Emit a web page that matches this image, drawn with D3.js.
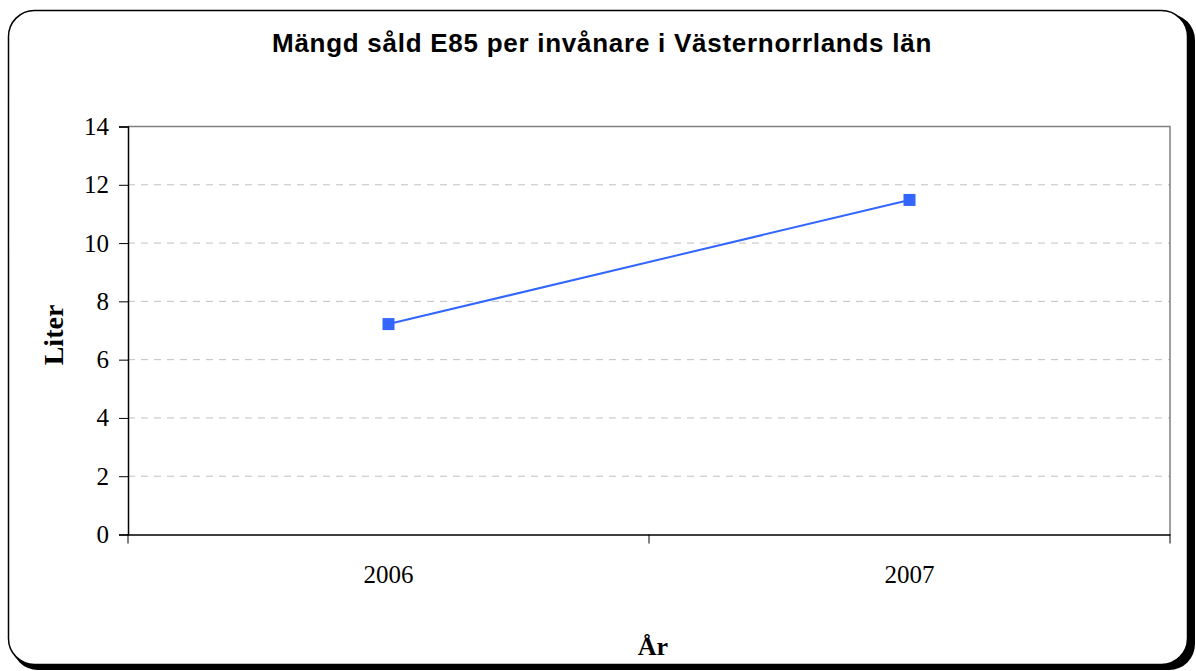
<!DOCTYPE html>
<html><head><meta charset="utf-8">
<script src="https://d3js.org/d3.v7.min.js"></script>
<style>body{margin:0;background:#fff}</style>
</head><body>
<script>
const categories = ["2006", "2007"];
const values = [7.22, 11.48];
const yTicks = [0, 2, 4, 6, 8, 10, 12, 14];
const titleText = "Mängd såld E85 per invånare i Västernorrlands län";
const xTitle = "År";
const yTitle = "Liter";

const W = 1196, H = 671;
const svg = d3.select("body").append("svg").attr("width", W).attr("height", H);
const serif = "Liberation Serif, Times New Roman, serif";

// frame with shadow
svg.append("rect").attr("x", 12).attr("y", 14).attr("width", 1183).attr("height", 656)
  .attr("rx", 26).attr("fill", "#000");
svg.append("rect").attr("x", 8.5).attr("y", 10.5).attr("width", 1179).attr("height", 654)
  .attr("rx", 26).attr("fill", "#fff").attr("stroke", "#000").attr("stroke-width", 1.5);

const L = 128, R = 1170, T = 126.5, B = 534.5;
const x = d3.scaleBand().domain(categories).range([L, R]);
const y = d3.scaleLinear().domain([0, 14]).range([B, T]);

// gridlines
svg.append("g").selectAll("line").data(yTicks.filter(d => d > 0 && d < 14)).join("line")
  .attr("x1", L).attr("x2", R).attr("y1", d => y(d)).attr("y2", d => y(d))
  .attr("stroke", "#c0c0c0").attr("stroke-dasharray", "7,6").attr("stroke-width", 1);

// plot border top/right
svg.append("path").attr("d", `M${L},${T}H${R}V${B}`).attr("fill", "none").attr("stroke", "#808080").attr("stroke-width", 1.5);

// y axis
const yAxis = d3.axisLeft(y).tickValues(yTicks).tickSize(9).tickPadding(10);
const gy = svg.append("g").attr("transform", `translate(${L},0)`).call(yAxis);
gy.select(".domain").attr("stroke", "#000").attr("stroke-width", 1.5);
gy.selectAll(".tick line").attr("stroke", "#000");
gy.selectAll("text").attr("font-family", serif).attr("font-size", 25).attr("fill", "#000");

// x axis
const xAxis = d3.axisBottom(x).tickSize(0).tickPadding(31);
const gx = svg.append("g").attr("transform", `translate(0,${B})`).call(xAxis);
gx.select(".domain").attr("stroke", "#000").attr("stroke-width", 1.5);
gx.selectAll("text").attr("font-family", serif).attr("font-size", 25).attr("fill", "#000");
const bounds = [L, ...categories.slice(1).map(c => x(c)), R];
gx.selectAll(".bt").data(bounds).join("line").attr("class", "bt")
  .attr("x1", d => d).attr("x2", d => d).attr("y1", 0).attr("y2", 9).attr("stroke", "#000");

// line
const cx = d => x(d) + x.bandwidth() / 2;
const data = categories.map((c, i) => ({c, v: values[i]}));
svg.append("path").datum(data)
  .attr("d", d3.line().x(d => cx(d.c)).y(d => y(d.v)))
  .attr("fill", "none").attr("stroke", "#3366ff").attr("stroke-width", 2);
svg.selectAll(".pt").data(data).join("rect").attr("class", "pt")
  .attr("x", d => cx(d.c) - 6).attr("y", d => y(d.v) - 6).attr("width", 12).attr("height", 12)
  .attr("fill", "#3366ff");

// titles
const t = svg.append("text").attr("x", 602).attr("y", 52).attr("text-anchor", "middle")
  .attr("font-family", "Liberation Sans, Arial, sans-serif").attr("font-weight", "bold").attr("font-size", 26)
  .text(titleText);
const tl = t.node().getComputedTextLength();
const n = titleText.length;
t.attr("letter-spacing", Math.max(0, (660 - tl) / n));

svg.append("text").attr("x", 653).attr("y", 655).attr("text-anchor", "middle")
  .attr("font-family", serif).attr("font-weight", "bold").attr("font-size", 26)
  .text(xTitle);
svg.append("text").attr("transform", "translate(63,335) rotate(-90)").attr("text-anchor", "middle")
  .attr("font-family", serif).attr("font-weight", "bold").attr("font-size", 28)
  .text(yTitle);
</script>
</body></html>
